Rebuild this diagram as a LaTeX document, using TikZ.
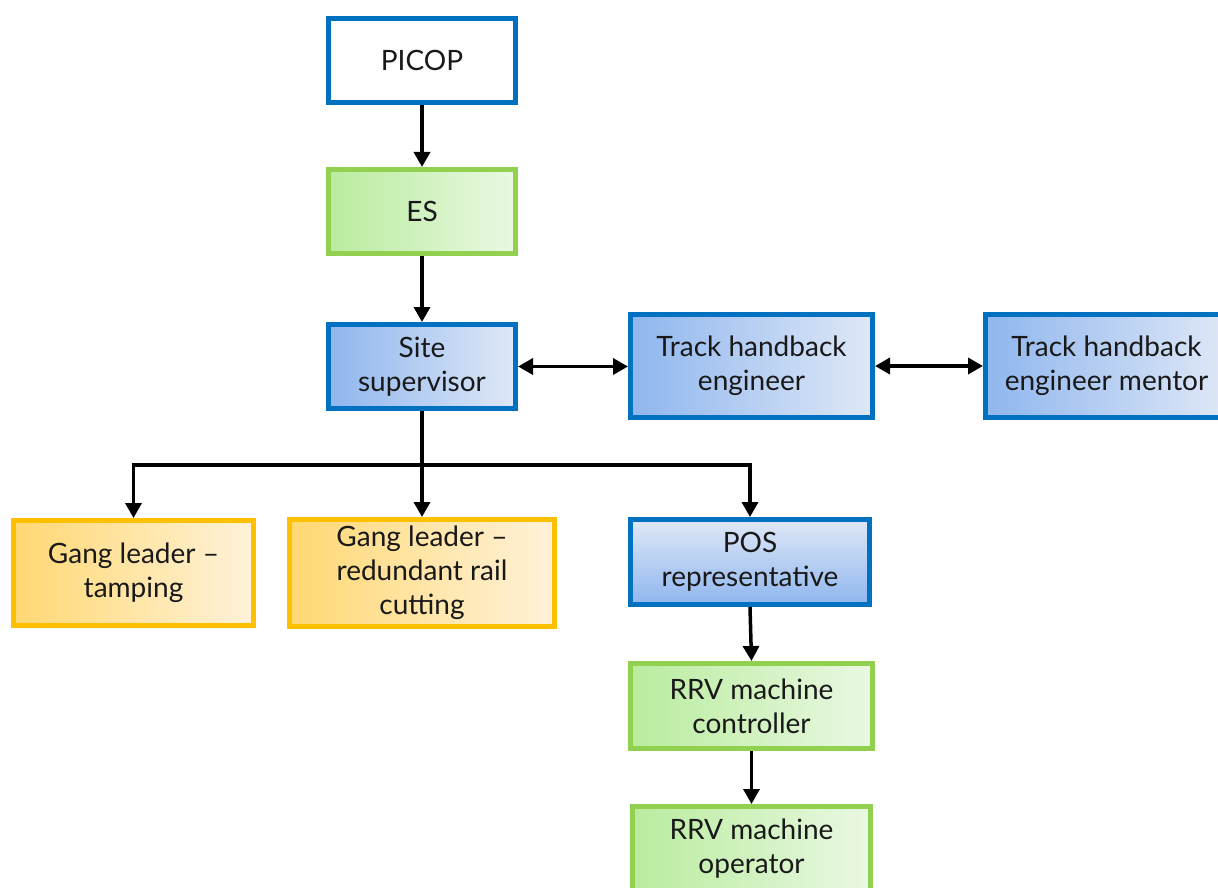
\documentclass[tikz,border=0pt]{standalone}
\usepackage{fontspec}
\setmainfont{Lato}
\usetikzlibrary{arrows.meta}
\definecolor{bborder}{HTML}{0070C0}
\definecolor{bdark}{HTML}{8FB6EE}
\definecolor{blight}{HTML}{DFE8F7}
\definecolor{gborder}{HTML}{92D050}
\definecolor{gdark}{HTML}{B9EC9E}
\definecolor{glight}{HTML}{EAF8E3}
\definecolor{oborder}{HTML}{FFC000}
\definecolor{odark}{HTML}{FFD873}
\definecolor{olight}{HTML}{FFF2DA}
\tikzset{
  box/.style={draw, line width=5pt, align=center, inner sep=0pt,
    font=\fontsize{28}{34}\selectfont, text=black!90},
  conn/.style={line width=3.5pt, draw=black, -{Triangle[length=15pt,width=16pt]}},
  biconn/.style={line width=3.5pt, draw=black, {Triangle[length=15pt,width=16pt]}-{Triangle[length=15pt,width=16pt]}},
}
\begin{document}
\begin{tikzpicture}[x=1pt,y=-1pt]
\clip (0,0) rectangle (1218,888);
\fill[white] (0,0) rectangle (1218,888);
\node[box, draw=bborder, fill=white, minimum width=187pt, minimum height=84pt] (picop) at (422,60.5) {PICOP};
\node[box, draw=gborder, left color=gdark, right color=glight, minimum width=187pt, minimum height=84pt] (es) at (422,211.5) {ES};
\node[box, draw=bborder, left color=bdark, right color=blight, minimum width=187pt, minimum height=84pt] (site) at (422,366.5) {Site\\supervisor};
\node[box, draw=bborder, left color=bdark, right color=blight, minimum width=242pt, minimum height=103pt] (the) at (751.5,366) {Track handback\\engineer};
\node[box, draw=bborder, left color=bdark, right color=blight, minimum width=242pt, minimum height=103pt] (them) at (1106.5,366) {Track handback\\engineer mentor};
\node[box, draw=oborder, left color=odark, right color=olight, minimum width=240pt, minimum height=105pt] (gt) at (133.5,573) {Gang leader --\\tamping};
\node[box, draw=oborder, left color=odark, right color=olight, minimum width=265pt, minimum height=107pt] (gr) at (422,573) {Gang leader --\\redundant rail\\cutting};
\node[box, draw=bborder, top color=blight, bottom color=bdark, minimum width=239pt, minimum height=85pt] (pos) at (750,562) {POS\\representative};
\node[box, draw=gborder, left color=gdark, right color=glight, minimum width=242pt, minimum height=85pt] (rrvc) at (751.5,706) {RRV machine\\controller};
\node[box, draw=gborder, left color=gdark, right color=glight, minimum width=238pt, minimum height=85pt] (rrvo) at (751.5,849) {RRV machine\\operator};
\draw[conn] (picop) -- (es);
\draw[conn] (es) -- (site);
\draw[biconn] (site.east) -- (the.west |- site.east);
\draw[biconn] (the.east) -- (them.west);
\coordinate (j) at (422,465);
\draw[line width=3.5pt] (site.south) -- (j);
\draw[conn] (j) -| (gt.north);
\draw[conn] (j) -- (gr.north);
\draw[conn] (j) -| (pos.north);
\draw[conn] (pos.south) -- (rrvc.north);
\draw[conn] (rrvc) -- (rrvo);
\end{tikzpicture}
\end{document}
